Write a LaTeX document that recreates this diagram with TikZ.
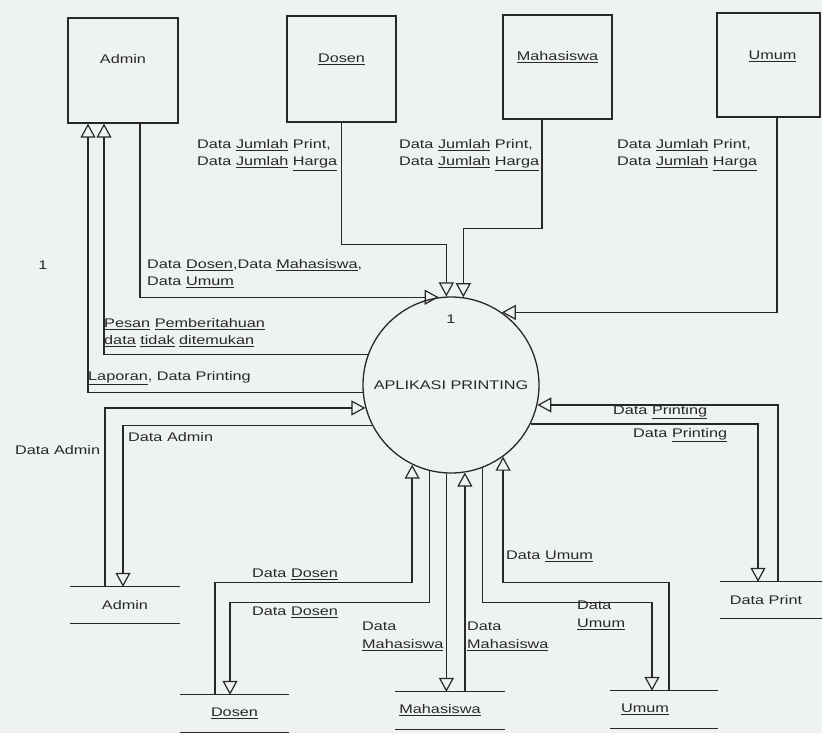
\documentclass[tikz,border=0pt]{standalone}
\usepackage{fontspec}
\setmainfont{Liberation Sans}[FakeStretch=1.3]
\usetikzlibrary{arrows.meta,calc}
\definecolor{bgc}{RGB}{239,242,243}
\definecolor{ink}{RGB}{40,40,40}
\newcommand{\udl}[1]{\underline{#1}}
\begin{document}
\begin{tikzpicture}[x=1pt,y=-1pt,
  every node/.style={font=\fontsize{12.5}{17.5}\selectfont, text=ink},
  ent/.style={draw=ink, line width=1.3pt, inner sep=0},
  proc/.style={circle, draw=ink, line width=1.3pt, minimum size=176pt, inner sep=0},
  flow/.style={draw=ink, line width=1.3pt, -{Triangle[open, length=14pt, width=15pt, line width=1.2pt]}},
  storenode/.style={inner sep=0, minimum height=36pt},
  storeline/.style={draw=ink, line width=1.3pt},
  lbl/.style={inner sep=0, anchor=west, align=left},
  lblml/.style={inner sep=0, anchor=north west, align=left},
]
\fill[bgc] (0,0) rectangle (822,733);
\useasboundingbox (0,0) rectangle (822,733);

% external entities
\node[ent, minimum width=110pt, minimum height=105pt,
      label={[anchor=center, yshift=-42pt]north:Admin}] (adminbox) at (123,70.5) {};
\node[ent, minimum width=109pt, minimum height=106pt,
      label={[anchor=center, yshift=-44pt]north:\udl{Dosen}}] (dosenbox) at (341.5,69) {};
\node[ent, minimum width=109pt, minimum height=104pt,
      label={[anchor=center, yshift=-43pt]north:\udl{Mahasiswa}}] (mhsbox) at (557.5,67) {};
\node[ent, minimum width=103pt, minimum height=104pt,
      label={[anchor=center, yshift=-44pt, xshift=4pt]north:\udl{Umum}}] (umumbox) at (768.5,65) {};

% process
\node[proc, label={[anchor=center, yshift=-23pt]north:1}] (P) at (451,385) {APLIKASI PRINTING};

% data stores
\node[storenode, minimum width=110pt] (adminstore) at (125,605) {Admin};
\node[storenode, minimum width=109pt, minimum height=37pt] (dosenstore) at (234.5,713.5) {\udl{Dosen}};
\node[storenode, minimum width=110pt, minimum height=37pt] (mhsstore) at (450,710.5) {\hspace*{-20pt}\udl{Mahasiswa}};
\node[storenode, minimum width=108pt, minimum height=37pt] (umumstore) at (664,709.5) {\hspace*{-38pt}\udl{Umum}};
\node[storenode, minimum width=102pt] (dpstore) at (771,600) {\hspace*{-10pt}Data Print};
\foreach \s in {adminstore,dosenstore,mhsstore,umumstore,dpstore}{
  \draw[storeline] (\s.north west) -- (\s.north east) (\s.south west) -- (\s.south east);
}

% flows between entities and process
\draw[flow] ([xshift=17pt]adminbox.south) |- (P.98);
\draw[flow] (dosenbox.south) -- ++(0,122) -| (P.93);
\draw[flow] ([xshift=-15.5pt]mhsbox.south) -- ++(0,109) -| (P.82);
\draw[flow] ([xshift=8.5pt]umumbox.south) |- (P.55);
\draw[flow] (P.160) -| ([xshift=-19pt]adminbox.south);
\draw[flow] (P.185) -| ([xshift=-35pt]adminbox.south);

% flows with data stores
\draw[flow] ([xshift=-20pt]adminstore.north) |- (P.195);
\draw[flow] (P.207) -| ([xshift=-2pt]adminstore.north);
\draw[flow] ([xshift=-19.5pt]dosenstore.north) -- ++(0,-112) -| (P.244);
\draw[flow] (P.256) |- ([xshift=-4.5pt, yshift=92pt]dosenstore.north) -- ([xshift=-4.5pt]dosenstore.north);
\draw[flow] (P.267) -- (P.267 |- mhsstore.north);
\draw[flow] (mhsstore.north -| P.279) -- (P.279);
\draw[flow] ([xshift=5pt]umumstore.north) -- ++(0,-108) -| (P.306);
\draw[flow] (P.291) |- ([xshift=-12pt, yshift=88pt]umumstore.north) -- ([xshift=-12pt]umumstore.north);
\draw[flow] ([xshift=7pt]dpstore.north) |- (P.347);
\draw[flow] (P.334) -| ([xshift=-13pt]dpstore.north);

% labels
\node[lblml] (l1) at (197,139) {Data \udl{Jumlah} Print,\\Data \udl{Jumlah} \udl{Harga}};
\node[lblml] (l2) at (399,139) {Data \udl{Jumlah} Print,\\Data \udl{Jumlah} \udl{Harga}};
\node[lblml] (l3) at (617,139) {Data \udl{Jumlah} Print,\\Data \udl{Jumlah} \udl{Harga}};
\node[lblml] (l4) at (147,259) {Data \udl{Dosen},Data \udl{Mahasiswa},\\Data \udl{Umum}};
\node[inner sep=0] (l5) at (43,265) {1};
\node[lblml] (l6) at (104,318) {\udl{Pesan} \udl{Pemberitahuan}\\\udl{data} \udl{tidak} \udl{ditemukan}};
\node[lbl] (l7) at (88,378) {\udl{Laporan}, Data Printing};
\node[lbl] (l8) at (128,437) {Data Admin};
\node[lbl] (l9) at (15,450) {Data Admin};
\node[lbl] (l10) at (252,574) {Data \udl{Dosen}};
\node[lbl] (l11) at (252,612) {Data \udl{Dosen}};
\node[lblml] (l12) at (362,622) {Data\\\udl{Mahasiswa}};
\node[lblml] (l13) at (467,622) {Data\\\udl{Mahasiswa}};
\node[lbl] (l14) at (506,556) {Data \udl{Umum}};
\node[lblml] (l15) at (577,601) {Data\\\udl{Umum}};
\node[lbl] (l16) at (613,412) {Data \udl{Printing}};
\node[lbl] (l17) at (633,435) {Data \udl{Printing}};
\end{tikzpicture}
\end{document}
